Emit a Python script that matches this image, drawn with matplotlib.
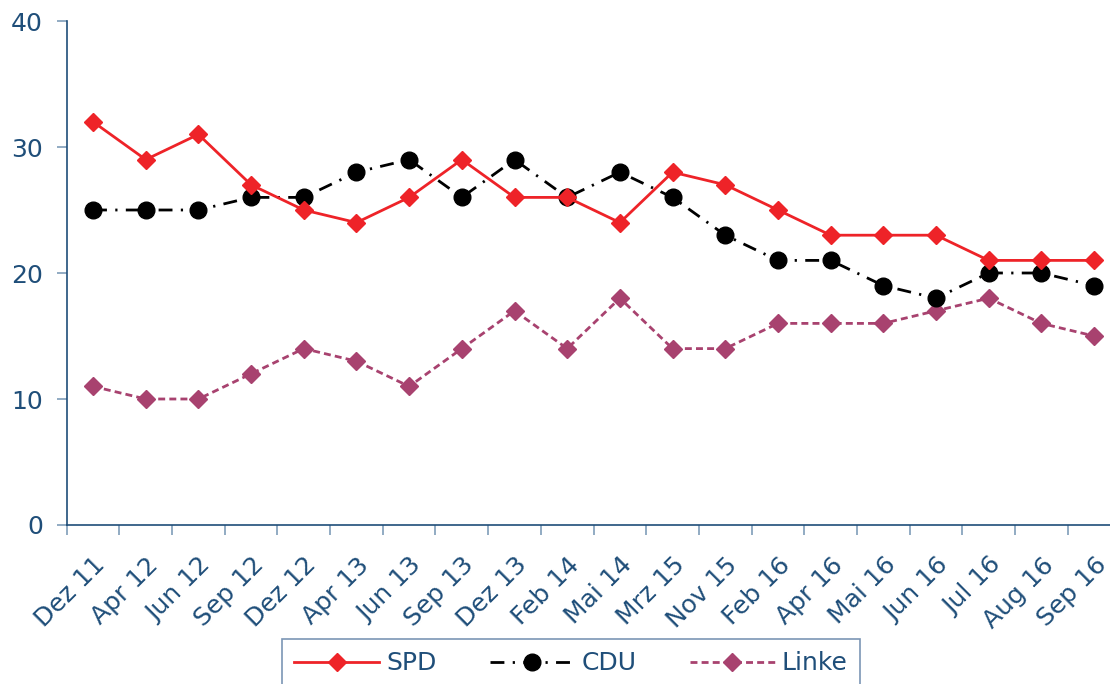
import matplotlib.pyplot as plt
from matplotlib.ticker import FixedLocator

# data
months = ["Dez 11", "Apr 12", "Jun 12", "Sep 12", "Dez 12", "Apr 13", "Jun 13",
          "Sep 13", "Dez 13", "Feb 14", "Mai 14", "Mrz 15", "Nov 15", "Feb 16",
          "Apr 16", "Mai 16", "Jun 16", "Jul 16", "Aug 16", "Sep 16"]
spd = [32, 29, 31, 27, 25, 24, 26, 29, 26, 26, 24, 28, 27, 25, 23, 23, 23, 21, 21, 21]
cdu = [25, 25, 25, 26, 26, 28, 29, 26, 29, 26, 28, 26, 23, 21, 21, 19, 18, 20, 20, 19]
linke = [11, 10, 10, 12, 14, 13, 11, 14, 17, 14, 18, 14, 14, 16, 16, 16, 17, 18, 16, 15]

TEXT = "#1F4E79"    # dark blue used for all text
SPINE = "#1F4E79"
TICK = "#7F9DB9"
FS = 18

plt.rcParams["font.family"] = ["DejaVu Sans"]

fig = plt.figure(figsize=(11.1, 6.84), dpi=100)
# axes runs a bit past the right edge of the image, as in the reference
ax = fig.add_axes([66.7 / 1110, 1 - 525 / 684, (1120.4 - 66.7) / 1110, (525 - 21) / 684])

x = list(range(len(months)))
ax.plot(x, spd, color="#EE2328", lw=2, marker="D", ms=9.5, label="SPD", zorder=3)
ax.plot(x, cdu, color="black", lw=2, marker="o", ms=12,
        linestyle=(0, (5, 3, 0.8, 3)), label="CDU", zorder=2)
ax.plot(x, linke, color="#A8426F", lw=2, marker="D", ms=9.5,
        linestyle=(0, (2.5, 1.5)), label="Linke", zorder=1)

ax.set_xlim(-0.5, len(months) - 0.5)
ax.set_ylim(0, 40)
ax.set_yticks([0, 10, 20, 30, 40])

# category labels at the centers, tick marks on the boundaries
ax.set_xticks(x)
ax.set_xticklabels(months, rotation=45, ha="right", rotation_mode="anchor")
ax.xaxis.set_minor_locator(FixedLocator([i - 0.5 for i in range(len(months) + 1)]))
ax.tick_params(axis="x", which="major", length=0, pad=20, labelsize=FS, labelcolor=TEXT)
ax.tick_params(axis="x", which="minor", length=7, width=1.2, color=TICK, direction="out")
ax.tick_params(axis="y", length=7, width=1.2, color=TICK, labelsize=FS, labelcolor=TEXT, pad=10)

for side in ["top", "right"]:
    ax.spines[side].set_visible(False)
ax.spines["left"].set_color(SPINE)
ax.spines["bottom"].set_color(SPINE)
ax.spines["left"].set_linewidth(1.2)
ax.spines["bottom"].set_linewidth(1.2)

leg = fig.legend(loc="upper center", bbox_to_anchor=(571 / 1110, 1 - 639 / 684), ncol=3,
                 fontsize=FS, frameon=True, fancybox=False, borderpad=0.5,
                 handlelength=3.4, columnspacing=2.1, handletextpad=0.3,
                 borderaxespad=0)
leg.get_frame().set_edgecolor("#5A7BA3")
leg.get_frame().set_linewidth(1.2)
for t in leg.get_texts():
    t.set_color(TEXT)

fig.savefig("out.png", dpi=100)
